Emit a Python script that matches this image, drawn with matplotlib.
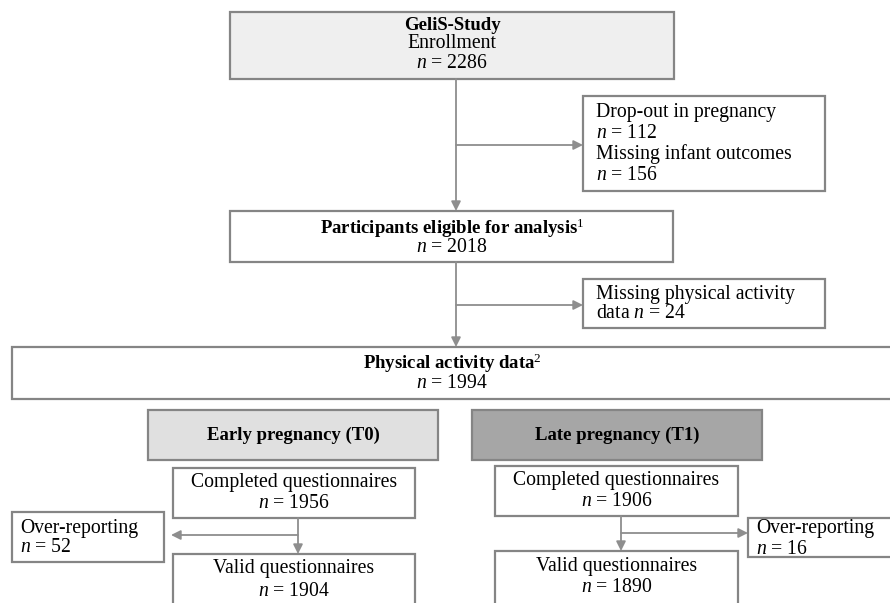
import matplotlib.pyplot as plt
from matplotlib.patches import Rectangle

plt.rcParams['font.family'] = ['Liberation Serif', 'DejaVu Serif']
plt.rcParams['mathtext.fontset'] = 'custom'
plt.rcParams['mathtext.rm'] = 'Liberation Serif'
plt.rcParams['mathtext.it'] = 'Liberation Serif:italic'
plt.rcParams['mathtext.bf'] = 'Liberation Serif:bold'

# Werte aus dem Flussdiagramm
n_enrolled = 2286
n_dropout = 112
n_missing_infant = 156
n_eligible = 2018
n_missing_pa = 24
n_pa_data = 1994
n_completed = [1956, 1906]
n_over = [52, 16]
n_valid = [1904, 1890]
phase_labels = ['Early pregnancy (T0)', 'Late pregnancy (T1)']

EDGE = '#858585'
LINE = '#8e8e8e'
FS = 14.2
FS_B = 13.5


def nt(v):
    return r'$n$' + ' = ' + str(v)


def box(ax, x0, y0, x1, y1, fc='white'):
    ax.add_patch(Rectangle((x0, y0), x1 - x0, y1 - y0, fc=fc, ec=EDGE, lw=1.6))


def txt(ax, x, y, s, ha='center', bold=False):
    ax.text(x, y, s, ha=ha, va='center', fontsize=FS_B if bold else FS,
            fontweight='bold' if bold else 'normal')


def arrow(ax, x0, y0, x1, y1):
    ax.annotate('', xy=(x1, y1), xytext=(x0, y0),
                arrowprops=dict(arrowstyle='-|>', color=LINE, lw=1.3,
                                mutation_scale=14, shrinkA=0, shrinkB=0))


fig = plt.figure(figsize=(8.9, 6.03), dpi=100)
ax = fig.add_axes([0, 0, 1, 1])
ax.set_xlim(0, 890)
ax.set_ylim(603, 0)
ax.axis('off')

# Rekrutierung
box(ax, 230, 12, 674, 79, fc='#efefef')
txt(ax, 452, 25, 'GeliS-Study', bold=True)
txt(ax, 452, 44, 'Enrollment')
txt(ax, 452, 64, nt(n_enrolled))

arrow(ax, 456, 79, 456, 211)
arrow(ax, 456, 145, 583, 145)
box(ax, 583, 96, 825, 191)
txt(ax, 596, 112, 'Drop-out in pregnancy', ha='left')
txt(ax, 596, 133, nt(n_dropout), ha='left')
txt(ax, 596, 154, 'Missing infant outcomes', ha='left')
txt(ax, 596, 175, nt(n_missing_infant), ha='left')

box(ax, 230, 211, 673, 262)
txt(ax, 452, 228, r'Participants eligible for analysis$^{1}$', bold=True)
txt(ax, 452, 248, nt(n_eligible))

arrow(ax, 456, 262, 456, 347)
arrow(ax, 456, 305, 583, 305)
box(ax, 583, 279, 825, 328)
txt(ax, 596, 294, 'Missing physical activity', ha='left')
txt(ax, 596, 314, 'data ' + nt(n_missing_pa), ha='left')

box(ax, 12, 347, 900, 399)
txt(ax, 452, 363, r'Physical activity data$^{2}$', bold=True)
txt(ax, 452, 384, nt(n_pa_data))

# T0 / T1
phase_x = [(148, 438), (472, 762)]
phase_fc = ['#e0e0e0', '#a6a6a6']
comp_box = [(173, 468, 415, 518), (495, 466, 738, 516)]
valid_box = [(173, 554, 415, 615), (495, 551, 738, 615)]
over_box = [(12, 512, 164, 562), (748, 518, 900, 557)]
stem_x = [298, 621]
branch_y = [535, 533]

for i in range(2):
    x0, x1 = phase_x[i]
    box(ax, x0, 410, x1, 460, fc=phase_fc[i])
    txt(ax, (x0 + x1) / 2, 435, phase_labels[i], bold=True)

    cx0, cy0, cx1, cy1 = comp_box[i]
    box(ax, cx0, cy0, cx1, cy1)
    txt(ax, (cx0 + cx1) / 2, cy0 + 15, 'Completed questionnaires')
    txt(ax, (cx0 + cx1) / 2, cy0 + 35, nt(n_completed[i]))

    vx0, vy0, vx1, vy1 = valid_box[i]
    box(ax, vx0, vy0, vx1, vy1)
    txt(ax, (vx0 + vx1) / 2, vy0 + 15, 'Valid questionnaires')
    txt(ax, (vx0 + vx1) / 2, vy0 + 37, nt(n_valid[i]))

    arrow(ax, stem_x[i], cy1, stem_x[i], vy0)
    ox0, oy0, ox1, oy1 = over_box[i]
    box(ax, ox0, oy0, ox1, oy1)
    if i == 0:
        arrow(ax, stem_x[i], branch_y[i], ox1 + 7, branch_y[i])
    else:
        arrow(ax, stem_x[i], branch_y[i], ox0, branch_y[i])
    dy = 16 if i == 0 else 11
    txt(ax, ox0 + 8, oy0 + dy, 'Over-reporting', ha='left')
    txt(ax, ox0 + 8, oy0 + dy + 20, nt(n_over[i]), ha='left')

fig.savefig('out.png', dpi=100)
